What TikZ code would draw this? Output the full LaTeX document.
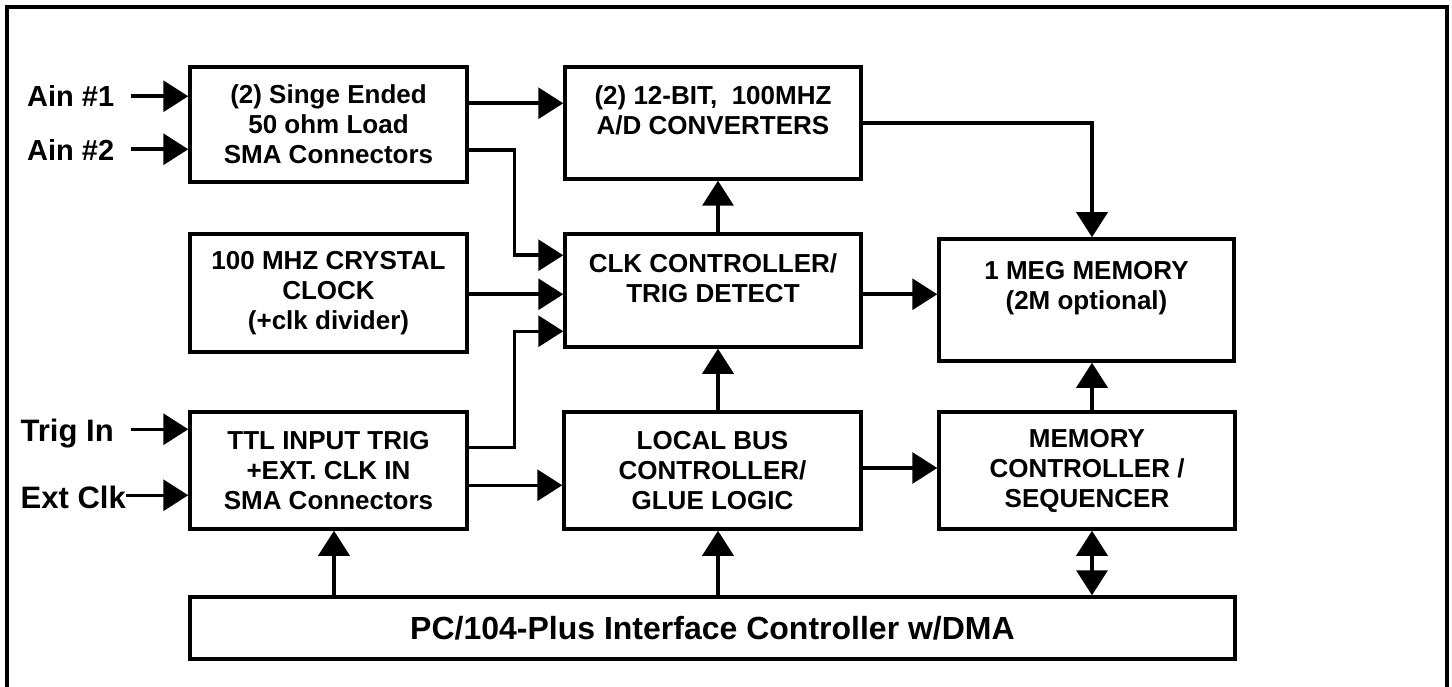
\documentclass[tikz,border=0pt]{standalone}
\usepackage{fontspec}
\setmainfont{Liberation Sans}
\usetikzlibrary{arrows.meta,calc}
\begin{document}
\begin{tikzpicture}[x=1pt,y=-1pt,
  box/.style={draw, line width=3.5pt, inner sep=0pt, align=center,
    font=\bfseries\fontsize{26}{30}\selectfont},
  lbl/.style={inner sep=0pt, font=\bfseries\fontsize{29}{36}\selectfont},
  lblb/.style={inner sep=0pt, font=\bfseries\fontsize{31}{36}\selectfont},
  arr/.style={line width=3.5pt, line join=miter, -{Triangle[length=25pt,width=31pt]}},
  dbl/.style={line width=3.5pt, {Triangle[length=25pt,width=31pt]}-{Triangle[length=25pt,width=31pt]}},
  frame/.style={line width=4pt, line join=miter}]
\useasboundingbox (0,0) rectangle (1452,687);

% outer frame (open at the bottom)
\coordinate (fbl) at (7,690);
\coordinate (ftl) at (7,7);
\coordinate (ftr) at (1447,7);
\coordinate (fbr) at (1447,690);
\draw[frame] (fbl) -- (ftl) -- (ftr) -- (fbr);

% boxes
\node[box, minimum width=277pt, minimum height=115pt] (inp) at (328.5,124.5)
  {(2) Singe Ended\\50 ohm Load\\SMA Connectors};
\node[box, minimum width=296pt, minimum height=112pt] (adc) at (713,123)
  {(2) 12-BIT,\ \ 100MHZ\\A/D CONVERTERS\\[-5pt]\mbox{}};
\node[box, minimum width=277pt, minimum height=118pt] (xtal) at (328.5,293)
  {100 MHZ CRYSTAL\\CLOCK\\(+clk divider)};
\node[box, minimum width=296pt, minimum height=113pt] (clk) at (713,290.5)
  {CLK CONTROLLER/\\TRIG DETECT\\[-5pt]\mbox{}};
\node[box, minimum width=295pt, minimum height=122pt] (mem) at (1086.5,300)
  {1 MEG MEMORY\\(2M optional)\\\mbox{}};
\node[box, minimum width=277pt, minimum height=117pt] (ttl) at (328.5,470.5)
  {TTL INPUT TRIG\\+EXT. CLK IN\\SMA Connectors};
\node[box, minimum width=297pt, minimum height=117pt] (lbus) at (712.5,470.5)
  {LOCAL BUS\\CONTROLLER/\\GLUE LOGIC};
\node[box, minimum width=296pt, minimum height=117pt] (mctl) at (1087,470.5)
  {MEMORY\\CONTROLLER /\\SEQUENCER};
\node[box, minimum width=1045pt, minimum height=62pt,
  font=\bfseries\fontsize{32}{36}\selectfont] (pc) at (712.5,628)
  {PC/104-Plus Interface Controller w/DMA};

% input labels
\node[lbl, anchor=base west] (ain1) at (27,107) {Ain \#1};
\node[lbl, anchor=base west] (ain2) at (27,160.7) {Ain \#2};
\node[lblb, anchor=base west] (trig) at (20.5,441.7) {Trig In};
\node[lblb, anchor=base west] (ext) at (20.5,508) {Ext Clk};

\coordinate (a1) at ($(inp.north west)+(-57,31)$);
\coordinate (a2) at ($(inp.north west)+(-57,84)$);
\coordinate (a3) at ($(ttl.north west)+(-57,19)$);
\coordinate (a4) at ($(ttl.north west)+(-62,85)$);
\draw[arr] (a1) -- (a1 -| inp.west);
\draw[arr] (a2) -- (a2 -| inp.west);
\draw[arr] (a3) -- (a3 -| ttl.west);
\draw[arr] (a4) -- (a4 -| ttl.west);

% input box to ADC
\draw[arr] ($(inp.north east)+(0,38)$) coordinate (p1) -- (p1 -| adc.west);
% input box to CLK controller
\coordinate (c1) at ($(clk.north west)+(0,23)$);
\coordinate (c2) at ($(clk.north west)+(0,62)$);
\coordinate (c3) at ($(clk.north west)+(0,99)$);
\coordinate (jx) at ($(clk.north west)+(-49,0)$);
\draw[arr] ($(inp.north east)+(0,85)$) -| (jx |- c1) -- (c1);
% crystal to CLK controller
\draw[arr] (xtal.east |- c2) -- (c2);
% TTL to CLK controller
\draw[arr] ($(ttl.north east)+(0,37)$) -| (jx |- c3) -- (c3);
% TTL to local bus
\draw[arr] ($(ttl.north east)+(0,75)$) coordinate (p6) -- (p6 -| lbus.west);

% vertical links
\coordinate (vx) at ($(lbus.north)+(5.5,0)$);
\draw[arr] (vx) -- (vx |- clk.south);
\draw[arr] (vx |- clk.north) -- (vx |- adc.south);
\draw[arr] (vx |- pc.north) -- (vx |- lbus.south);
\coordinate (tx) at ($(ttl.south)+(5.5,0)$);
\draw[arr] (tx |- pc.north) -- (tx);

% ADC to memory
\coordinate (mx) at ($(mem.north)+(5.5,0)$);
\draw[arr] (adc.east) -| (mx);
% CLK controller to memory
\draw[arr] (clk.east |- c2) -- (mem.west |- c2);
% local bus to memory controller
\draw[arr] ($(lbus.east)+(0,-2.5)$) coordinate (p13) -- (p13 -| mctl.west);
% memory controller to memory
\draw[arr] (mx |- mctl.north) -- (mx |- mem.south);
% memory controller <-> PC interface
\draw[dbl] (mx |- mctl.south) -- (mx |- pc.north);
\end{tikzpicture}
\end{document}
